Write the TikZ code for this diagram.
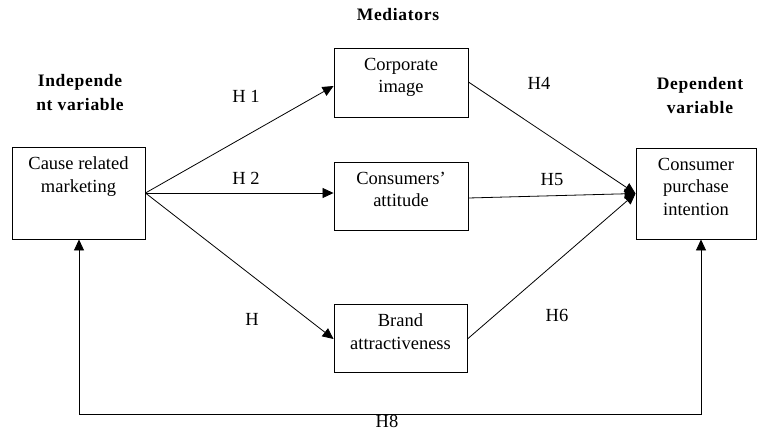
\documentclass[tikz,border=0pt]{standalone}
\usepackage{fontspec}
\setmainfont{Liberation Serif}
\usetikzlibrary{arrows.meta}
\begin{document}
\begin{tikzpicture}[x=1pt,y=-1pt,
  box/.style={draw,line width=0.9pt,inner sep=0pt},
  boxtext/.style={align=center,anchor=north,inner sep=0pt,font=\fontsize{18.5}{22.5}\selectfont,yshift=-10pt},
  hlabel/.style={font=\fontsize{18.5}{22}\selectfont,inner sep=0pt},
  title/.style={font=\bfseries\fontsize{17.5}{23.5}\selectfont\addfontfeature{LetterSpace=4},align=center,inner sep=0pt},
  conn/.style={line width=0.8pt,-{Triangle[length=11pt,width=10pt]}},
  plain/.style={line width=0.8pt}]
\useasboundingbox (0,0) rectangle (758,431);
% boxes
\node[box,minimum width=133pt,minimum height=92pt] (crm) at (78.5,193) {};
\node[boxtext] (crmt) at (crm.north) {Cause related\\marketing};
\node[box,minimum width=134pt,minimum height=69pt] (ci) at (401,82.5) {};
\node[boxtext] (cit) at (ci.north) {Corporate\\image};
\node[box,minimum width=134pt,minimum height=68pt] (ca) at (401,196) {};
\node[boxtext] (cat) at (ca.north) {Consumers’\\attitude};
\node[box,minimum width=133pt,minimum height=68pt] (ba) at (400.5,338) {};
\node[boxtext] (bat) at (ba.north) {Brand\\attractiveness};
\node[box,minimum width=120pt,minimum height=91pt] (cpi) at (696,193.5) {};
\node[boxtext] (cpit) at (cpi.north) {Consumer\\purchase\\intention};
% titles
\node[title] (med) at (398,15) {Mediators};
\node[title] (ind) at (80,92.5) {Independe\\nt variable};
\node[title] (dep) at (700,95.5) {Dependent\\variable};
% connector end points
\coordinate (h1e) at ([yshift=-3.5pt]ci.west);
\coordinate (h2e) at (crm.east -| ca.west);
\coordinate (h4s) at ([yshift=0.5pt]ci.east);
\coordinate (h5s) at ([yshift=-2pt]ca.east);
\coordinate (h3e) at ([yshift=-1pt]ba.west);
\coordinate (h6s) at ([yshift=-1pt]ba.east);
\coordinate (cpin) at (cpi.west);
\coordinate (b1) at (79,414);
\coordinate (b2) at (701,414);
% connectors
\draw[conn] (crm.east) -- (h1e);
\draw[conn] (crm.east) -- (h2e);
\draw[conn] (crm.east) -- (h3e);
\draw[conn] (h4s) -- (cpin);
\draw[conn] (h5s) -- (cpin);
\draw[conn] (h6s) -- (cpin);
\draw[conn] (b2) -- (b1) -- (crm.south -| b1);
\draw[conn] (b1) -- (b2) -- (cpi.south -| b2);
% labels
\node[hlabel] (l1) at (246,96) {H 1};
\node[hlabel] (l2) at (246,178) {H 2};
\node[hlabel] (l3) at (252,319) {H};
\node[hlabel] (l4) at (539,83) {H4};
\node[hlabel] (l5) at (552,180) {H5};
\node[hlabel] (l6) at (557,315) {H6};
\node[hlabel] (l8) at (387,421.5) {H8};
\end{tikzpicture}
\end{document}
